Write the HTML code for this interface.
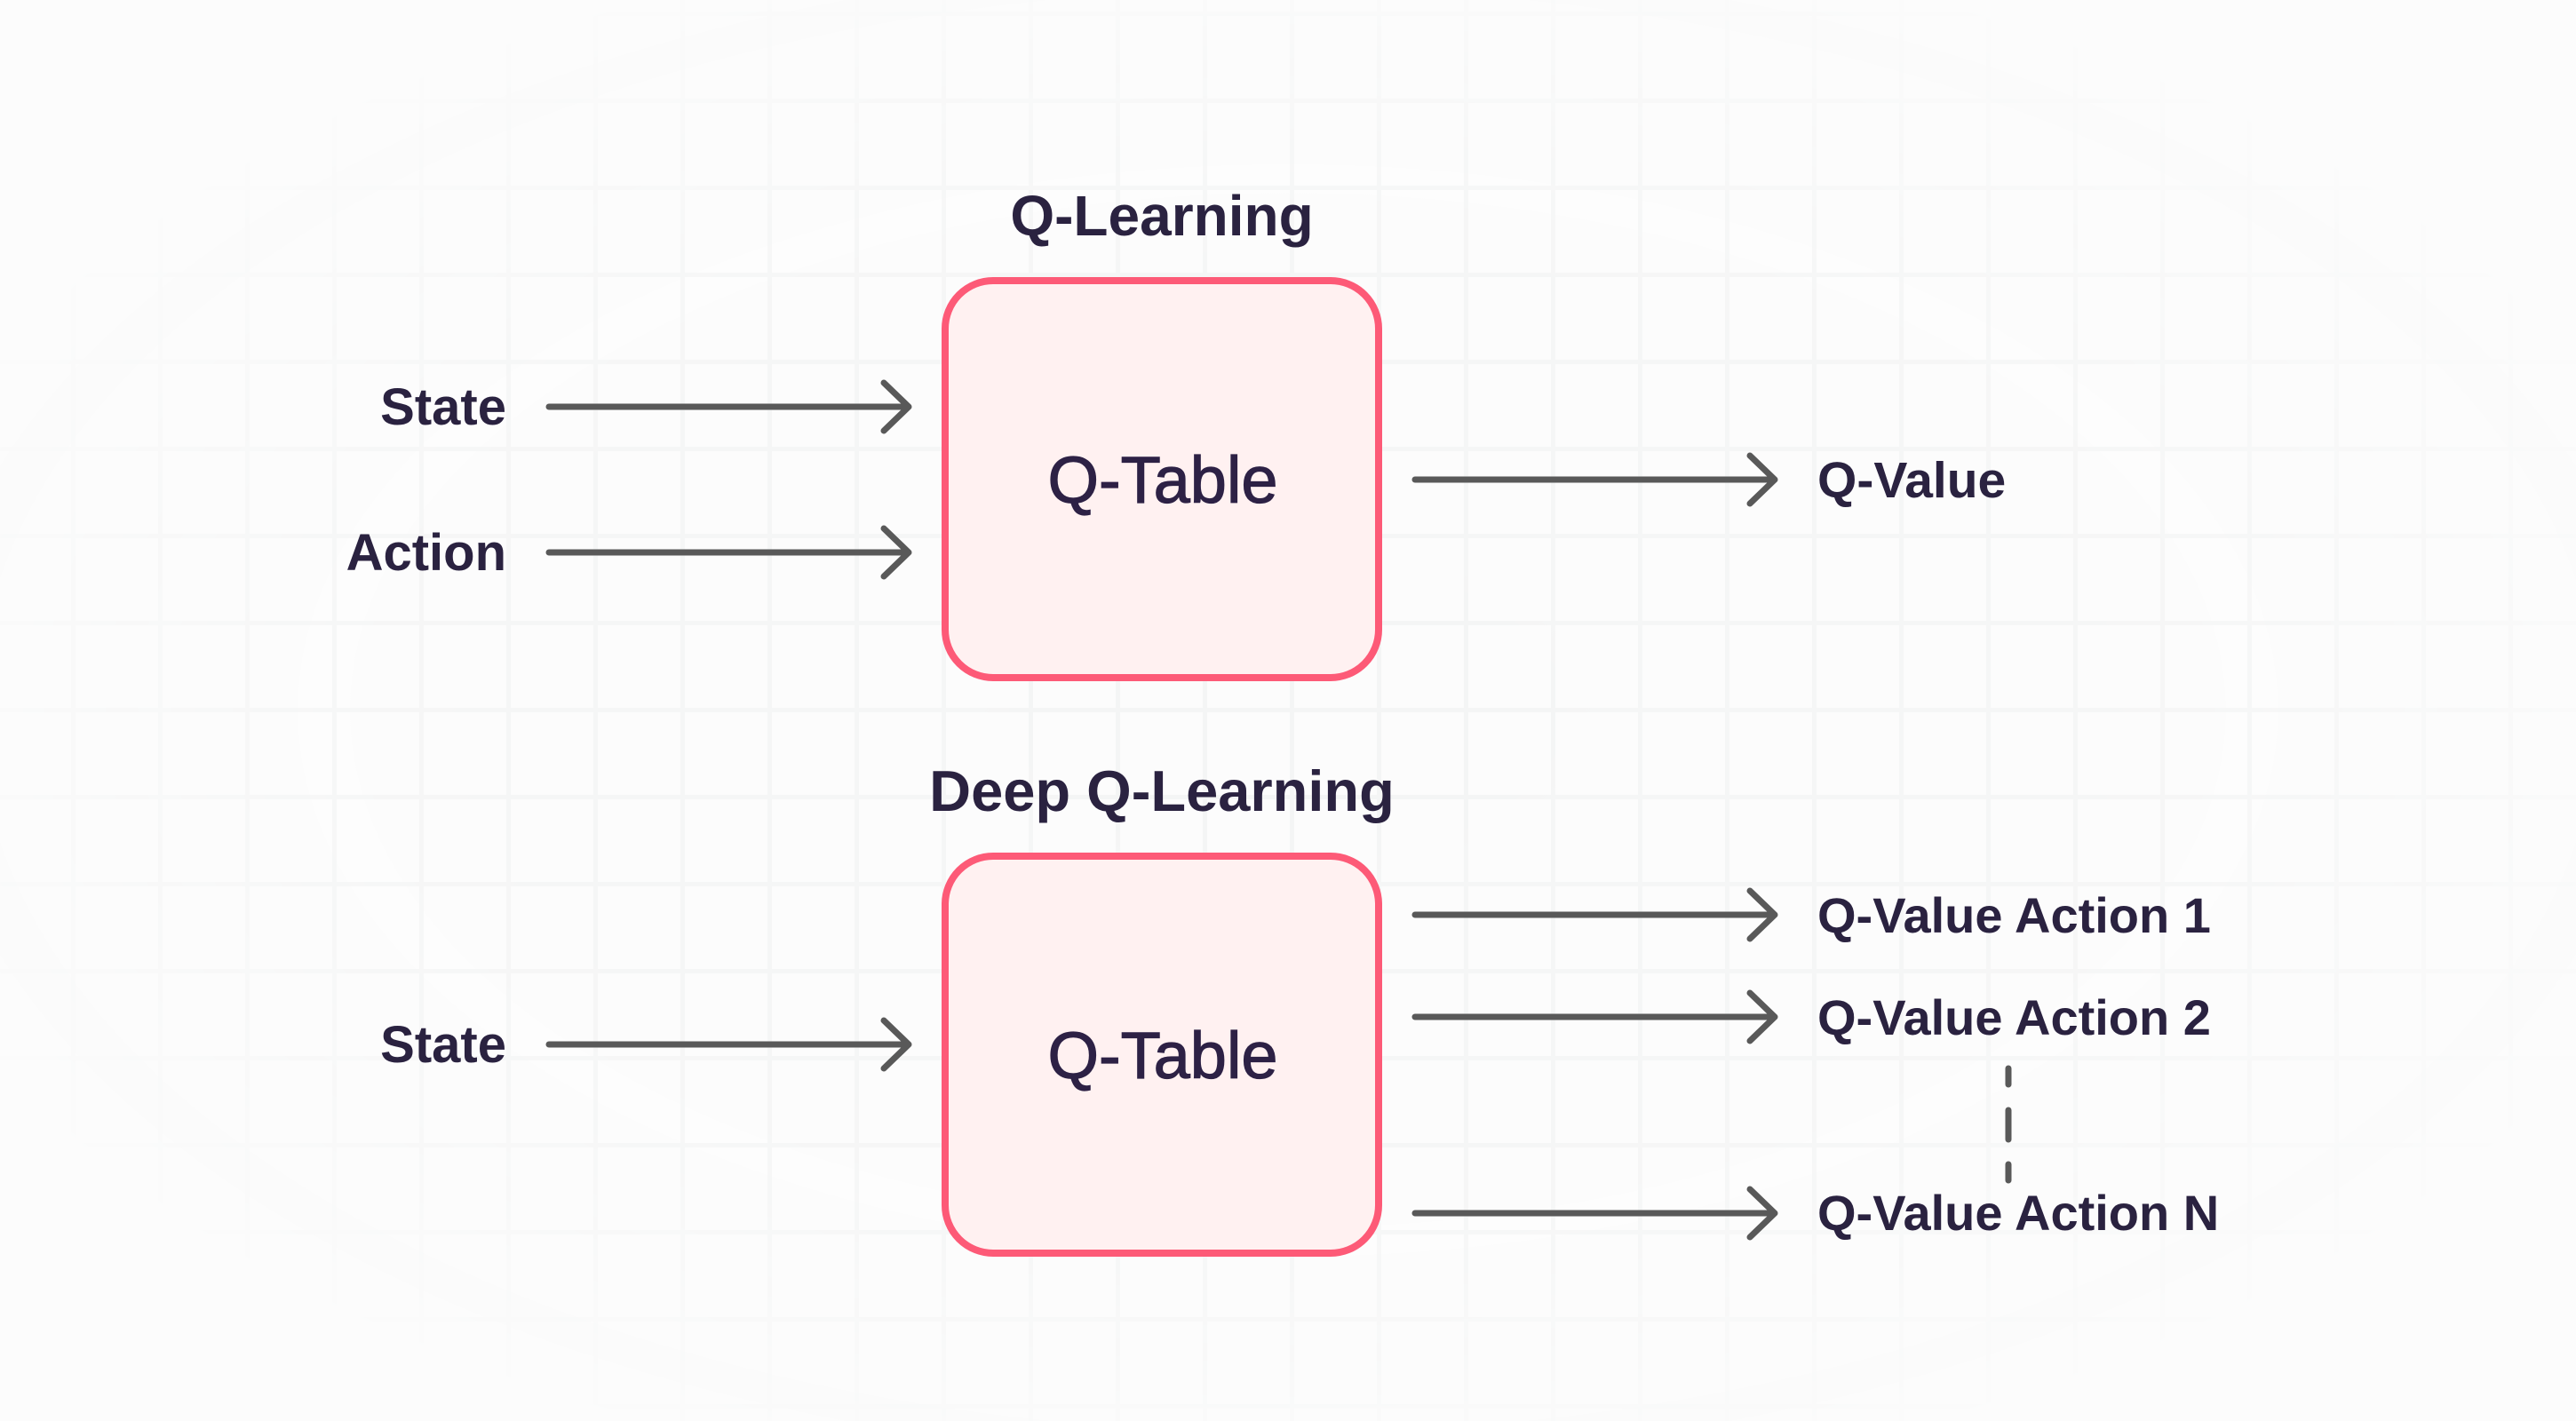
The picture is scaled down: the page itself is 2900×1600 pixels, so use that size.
<!DOCTYPE html>
<html>
<head>
<meta charset="utf-8">
<style>
  html, body { margin: 0; padding: 0; background: #fcfcfc; }
  body { width: 2900px; height: 1600px; overflow: hidden; }
  svg { display: block; }
  text { font-family: "Liberation Sans", "DejaVu Sans", sans-serif; fill: #2a2240; }
</style>
</head>
<body>
<svg width="2900" height="1600" viewBox="0 0 2900 1600" xmlns="http://www.w3.org/2000/svg">
  <defs>
    <pattern id="grid" x="80" y="13" width="98" height="98" patternUnits="userSpaceOnUse">
      <rect x="0" y="0" width="98" height="98" fill="#fcfcfc"/>
      <rect x="0" y="0" width="98" height="5" fill="#f4f5f5"/>
      <rect x="0" y="0" width="5" height="98" fill="#f4f5f5"/>
    </pattern>
    <radialGradient id="fade" cx="0.5" cy="0.5" r="0.6">
      <stop offset="0" stop-color="#fff" stop-opacity="1"/>
      <stop offset="0.6" stop-color="#fff" stop-opacity="0.85"/>
      <stop offset="0.95" stop-color="#fff" stop-opacity="0"/>
    </radialGradient>
    <mask id="m">
      <rect x="0" y="0" width="2900" height="1600" fill="url(#fade)"/>
    </mask>
  </defs>

  <rect x="0" y="0" width="2900" height="1600" fill="#fcfcfc"/>
  <rect x="0" y="0" width="2900" height="1600" fill="url(#grid)" mask="url(#m)"/>

  <!-- Titles -->
  <text x="1308" y="265" font-size="64" font-weight="bold" text-anchor="middle">Q-Learning</text>
  <text x="1308" y="913" font-size="65" font-weight="bold" text-anchor="middle">Deep Q-Learning</text>

  <!-- Boxes -->
  <rect x="1064" y="316" width="488" height="447" rx="54" ry="54" fill="#fff1f1" stroke="#fd5a77" stroke-width="8"/>
  <rect x="1064" y="964" width="488" height="447" rx="54" ry="54" fill="#fff1f1" stroke="#fd5a77" stroke-width="8"/>

  <text x="1309" y="566" font-size="74" text-anchor="middle" style="fill:#2d2145;stroke:#2d2145;stroke-width:1.2">Q-Table</text>
  <text x="1309" y="1214" font-size="74" text-anchor="middle" style="fill:#2d2145;stroke:#2d2145;stroke-width:1.2">Q-Table</text>

  <!-- Left labels -->
  <text x="570" y="478" font-size="58" font-weight="bold" text-anchor="end">State</text>
  <text x="570" y="642" font-size="58" font-weight="bold" text-anchor="end">Action</text>
  <text x="570" y="1196" font-size="58" font-weight="bold" text-anchor="end">State</text>

  <!-- Arrows -->
  <g fill="none" stroke="#595959" stroke-width="7" stroke-linecap="round" stroke-linejoin="round">
    <path d="M618 458 H1023 M995 431 L1023 458 L995 485"/>
    <path d="M618 622 H1023 M995 595 L1023 622 L995 649"/>
    <path d="M618 1176 H1023 M995 1149 L1023 1176 L995 1203"/>
    <path d="M1593 540 H1998 M1970 513 L1998 540 L1970 567"/>
    <path d="M1593 1030 H1998 M1970 1003 L1998 1030 L1970 1057"/>
    <path d="M1593 1145 H1998 M1970 1118 L1998 1145 L1970 1172"/>
    <path d="M1593 1366 H1998 M1970 1339 L1998 1366 L1970 1393"/>
    <path d="M2261 1203 V1221 M2261 1250 V1283 M2261 1311 V1329"/>
  </g>

  <!-- Right labels -->
  <text x="2046" y="560" font-size="57" font-weight="bold">Q-Value</text>
  <text x="2046" y="1050" font-size="56" font-weight="bold">Q-Value Action 1</text>
  <text x="2046" y="1165" font-size="56" font-weight="bold">Q-Value Action 2</text>
  <text x="2046" y="1385" font-size="56" font-weight="bold">Q-Value Action N</text>
</svg>
</body>
</html>
